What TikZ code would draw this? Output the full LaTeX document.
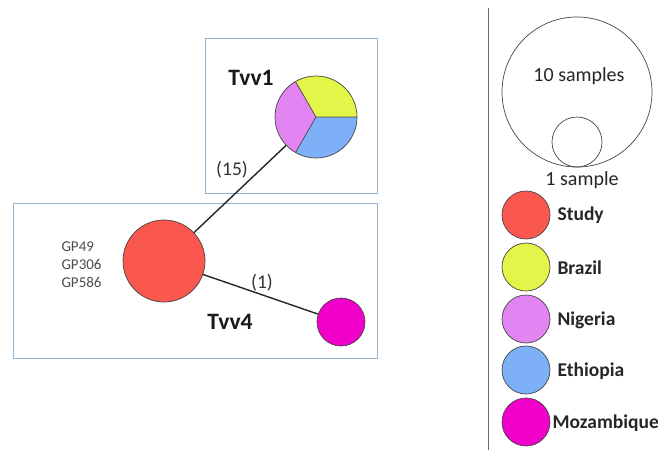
\documentclass[tikz,border=0pt]{standalone}
\usepackage{fontspec}
\setmainfont{Carlito}
\definecolor{cStudy}{RGB}{250,88,78}
\definecolor{cBrazil}{RGB}{226,245,72}
\definecolor{cNigeria}{RGB}{226,132,242}
\definecolor{cEthiopia}{RGB}{125,176,246}
\definecolor{cMoz}{RGB}{240,0,200}
\definecolor{boxline}{RGB}{150,180,205}
\definecolor{ringline}{RGB}{70,70,70}
\begin{document}
\begin{tikzpicture}[x=1pt,y=-1pt,
  groupbox/.style={draw=boxline,line width=0.9pt},
  hap/.style={circle,draw=ringline,line width=0.7pt,inner sep=0pt},
  link/.style={draw=black!85,line width=1.4pt},
  grouplabel/.style={font=\bfseries\fontsize{23.5}{25}\selectfont,text=black!90},
  count/.style={font=\fontsize{19.5}{22}\selectfont,text=black!80},
  legendlabel/.style={font=\bfseries\fontsize{19.5}{22}\selectfont,anchor=west,text=black!85},
  sizelabel/.style={font=\fontsize{20}{22}\selectfont,text=black!85},
  strain/.style={font=\fontsize{15}{17}\selectfont,text=black!70,anchor=west}]
\useasboundingbox (0,0) rectangle (658,450);
\fill[white] (0,0) rectangle (658,450);

% group boxes
\draw[groupbox] (205,38) rectangle (377,193);
\draw[groupbox] (13,203) rectangle (377,358);

% Tvv1: three-way pie (y axis points down, so angles run clockwise)
\fill[cBrazil] (316,117) -- ++(0:41) arc[start angle=0,end angle=-120,radius=41] -- cycle;
\fill[cNigeria] (316,117) -- ++(-120:41) arc[start angle=-120,end angle=-240,radius=41] -- cycle;
\fill[cEthiopia] (316,117) -- ++(-240:41) arc[start angle=-240,end angle=-360,radius=41] -- cycle;
\draw[ringline,line width=0.7pt] (316,117) -- ++(0:41) (316,117) -- ++(-120:41) (316,117) -- ++(-240:41);
\node[hap,minimum size=82pt] (tvv1) at (316,117) {};

% Tvv4 haplotypes
\node[hap,fill=cStudy,minimum size=82pt] (study) at (164,261) {};
\node[hap,fill=cMoz,minimum size=48pt] (moz) at (341,322) {};

% connectors
\draw[link] (study) -- (tvv1);
\draw[link] (study) -- (moz);

% labels
\node[grouplabel] (l1) at (251,78) {Tvv1};
\node[grouplabel] (l4) at (230,322) {Tvv4};
\node[count] (c15) at (232,170) {(15)};
\node[count] (c1) at (262,283) {(1)};
\node[strain] (gp1) at (58,247) {GP49};
\node[strain] (gp2) at (58,264.5) {GP306};
\node[strain] (gp3) at (58,282) {GP586};

% legend divider
\draw[black!60,line width=1pt] (488,8) -- (488,450);

% size key
\node[circle,draw=ringline,line width=0.7pt,minimum size=150pt,inner sep=0pt] (big) at (577,92) {};
\node[circle,draw=ringline,line width=0.7pt,minimum size=50pt,inner sep=0pt] (small) at (577,142) {};
\node[sizelabel] (s10) at (579,76) {10 samples};
\node[sizelabel] (s1) at (582,180) {1 sample};

% colour key
\node[hap,fill=cStudy,minimum size=48pt] (kStudy) at (526,215) {};
\node[hap,fill=cBrazil,minimum size=48pt] (kBrazil) at (526,267) {};
\node[hap,fill=cNigeria,minimum size=48pt] (kNigeria) at (526,319) {};
\node[hap,fill=cEthiopia,minimum size=48pt] (kEthiopia) at (526,370) {};
\node[hap,fill=cMoz,minimum size=48pt] (kMoz) at (526,422) {};
\node[legendlabel] at (554,215) {Study};
\node[legendlabel] at (554,268) {Brazil};
\node[legendlabel] at (554,320) {Nigeria};
\node[legendlabel] at (554,371) {Ethiopia};
\node[legendlabel] at (549,423) {Mozambique};
\end{tikzpicture}
\end{document}
